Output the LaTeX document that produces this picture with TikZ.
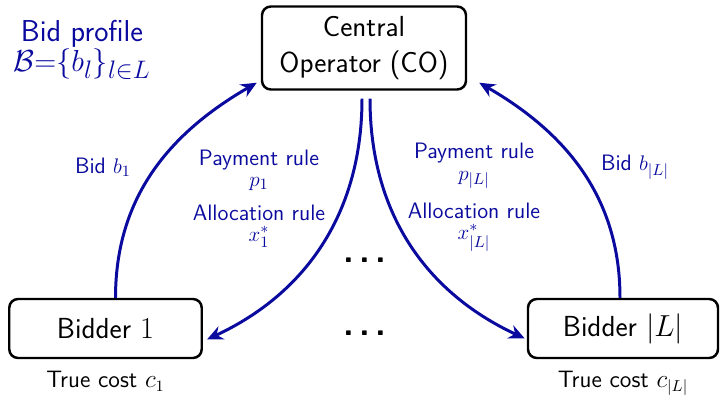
\documentclass[tikz,border=0pt]{standalone}
\usepackage{amsmath,amssymb}
\usepackage{xcolor}
\definecolor{rulecolor}{HTML}{0A0A9E}
\definecolor{boxborder}{HTML}{000000}
\usepackage{tikz}
\usetikzlibrary{positioning,arrows.meta}
\tikzset{
    agent/.style={
        rectangle,
        draw=boxborder,
        fill=white,
        text=black,
        minimum height=1.18cm,
        minimum width=3.85cm,
        align=center,
        rounded corners=5pt,
        line width=1.4pt,
        font=\sffamily\fontsize{16.5}{20.5}\selectfont,
    },
    flow/.style={
        -{Stealth[length=9pt,width=8pt]},
        line width=1.7pt,
        rulecolor,
    },
    rulelabel/.style={
        text=rulecolor,
        align=center,
        inner sep=1pt,
        font=\sffamily\fontsize{12.7}{12}\selectfont,
    },
    costlabel/.style={
        text=black,
        font=\sffamily\fontsize{13.5}{15}\selectfont,
    },
    dotrow/.style={
        anchor=base,
        inner sep=0pt,
        font=\sffamily\bfseries\fontsize{20}{22}\selectfont,
    },
}
\begin{document}
\begin{tikzpicture}[node distance=0.8cm]
    \useasboundingbox (0,0) rectangle (14.4,-8);

    \node[agent, minimum width=4.08cm, minimum height=1.66cm] (co) at (7.28,-0.96) {Central\\Operator (CO)};
    \node[agent] (bidA) at (2.11,-6.57) {Bidder $1$};
    \node[agent, minimum width=3.8cm] (bidL) at (12.46,-6.57) {Bidder $|L|$};

    \node[costlabel, below=0.12cm of bidA] (costA) {True cost $c_1$};
    \node[costlabel, below=0.12cm of bidL] (costL) {True cost $c_{|L|}$};

    \node[text=rulecolor, align=center, inner sep=1pt, font=\sffamily\fontsize{17.2}{17}\selectfont] (profile) at (1.64,-1.0) {Bid profile\\{\fontsize{19}{17}\selectfont$\mathcal{B}{=}\{b_l\}_{l\in L}$}};

    \node[dotrow] (dotsUp) at (7.3,-5.26) {.\hspace{3pt}.\hspace{3pt}.};
    \node[dotrow] (dotsDown) at (7.3,-6.7) {.\hspace{3pt}.\hspace{3pt}.};

    % bids going up, rules coming down
    \draw[flow] ([xshift=0.2cm]bidA.north) to[out=90,in=-150] ([xshift=-0.08cm,yshift=0.16cm]co.south west);
    \draw[flow] ([xshift=-0.04cm,yshift=-0.16cm]co.south) to[out=-90,in=25] ([xshift=0.08cm,yshift=-0.22cm]bidA.east);
    \draw[flow] ([xshift=0.12cm,yshift=-0.16cm]co.south) to[out=-90,in=155] ([xshift=-0.04cm,yshift=-0.2cm]bidL.west);
    \draw[flow] ([xshift=-0.06cm]bidL.north) to[out=90,in=-30] ([xshift=0.24cm,yshift=0.16cm]co.south east);

    \node[rulelabel] (bidlabA) at (2.06,-3.34) {Bid $b_1$};
    \node[rulelabel] (payA) at (5.18,-3.4) {Payment rule\\$p_1$};
    \node[rulelabel] (allocA) at (5.18,-4.52) {Allocation rule\\$x_1^*$};
    \node[rulelabel] (payL) at (9.48,-3.32) {Payment rule\\$p_{|L|}$};
    \node[rulelabel] (allocL) at (9.48,-4.54) {Allocation rule\\$x_{|L|}^*$};
    \node[rulelabel] (bidlabL) at (12.7,-3.34) {Bid $b_{|L|}$};
\end{tikzpicture}
\end{document}
